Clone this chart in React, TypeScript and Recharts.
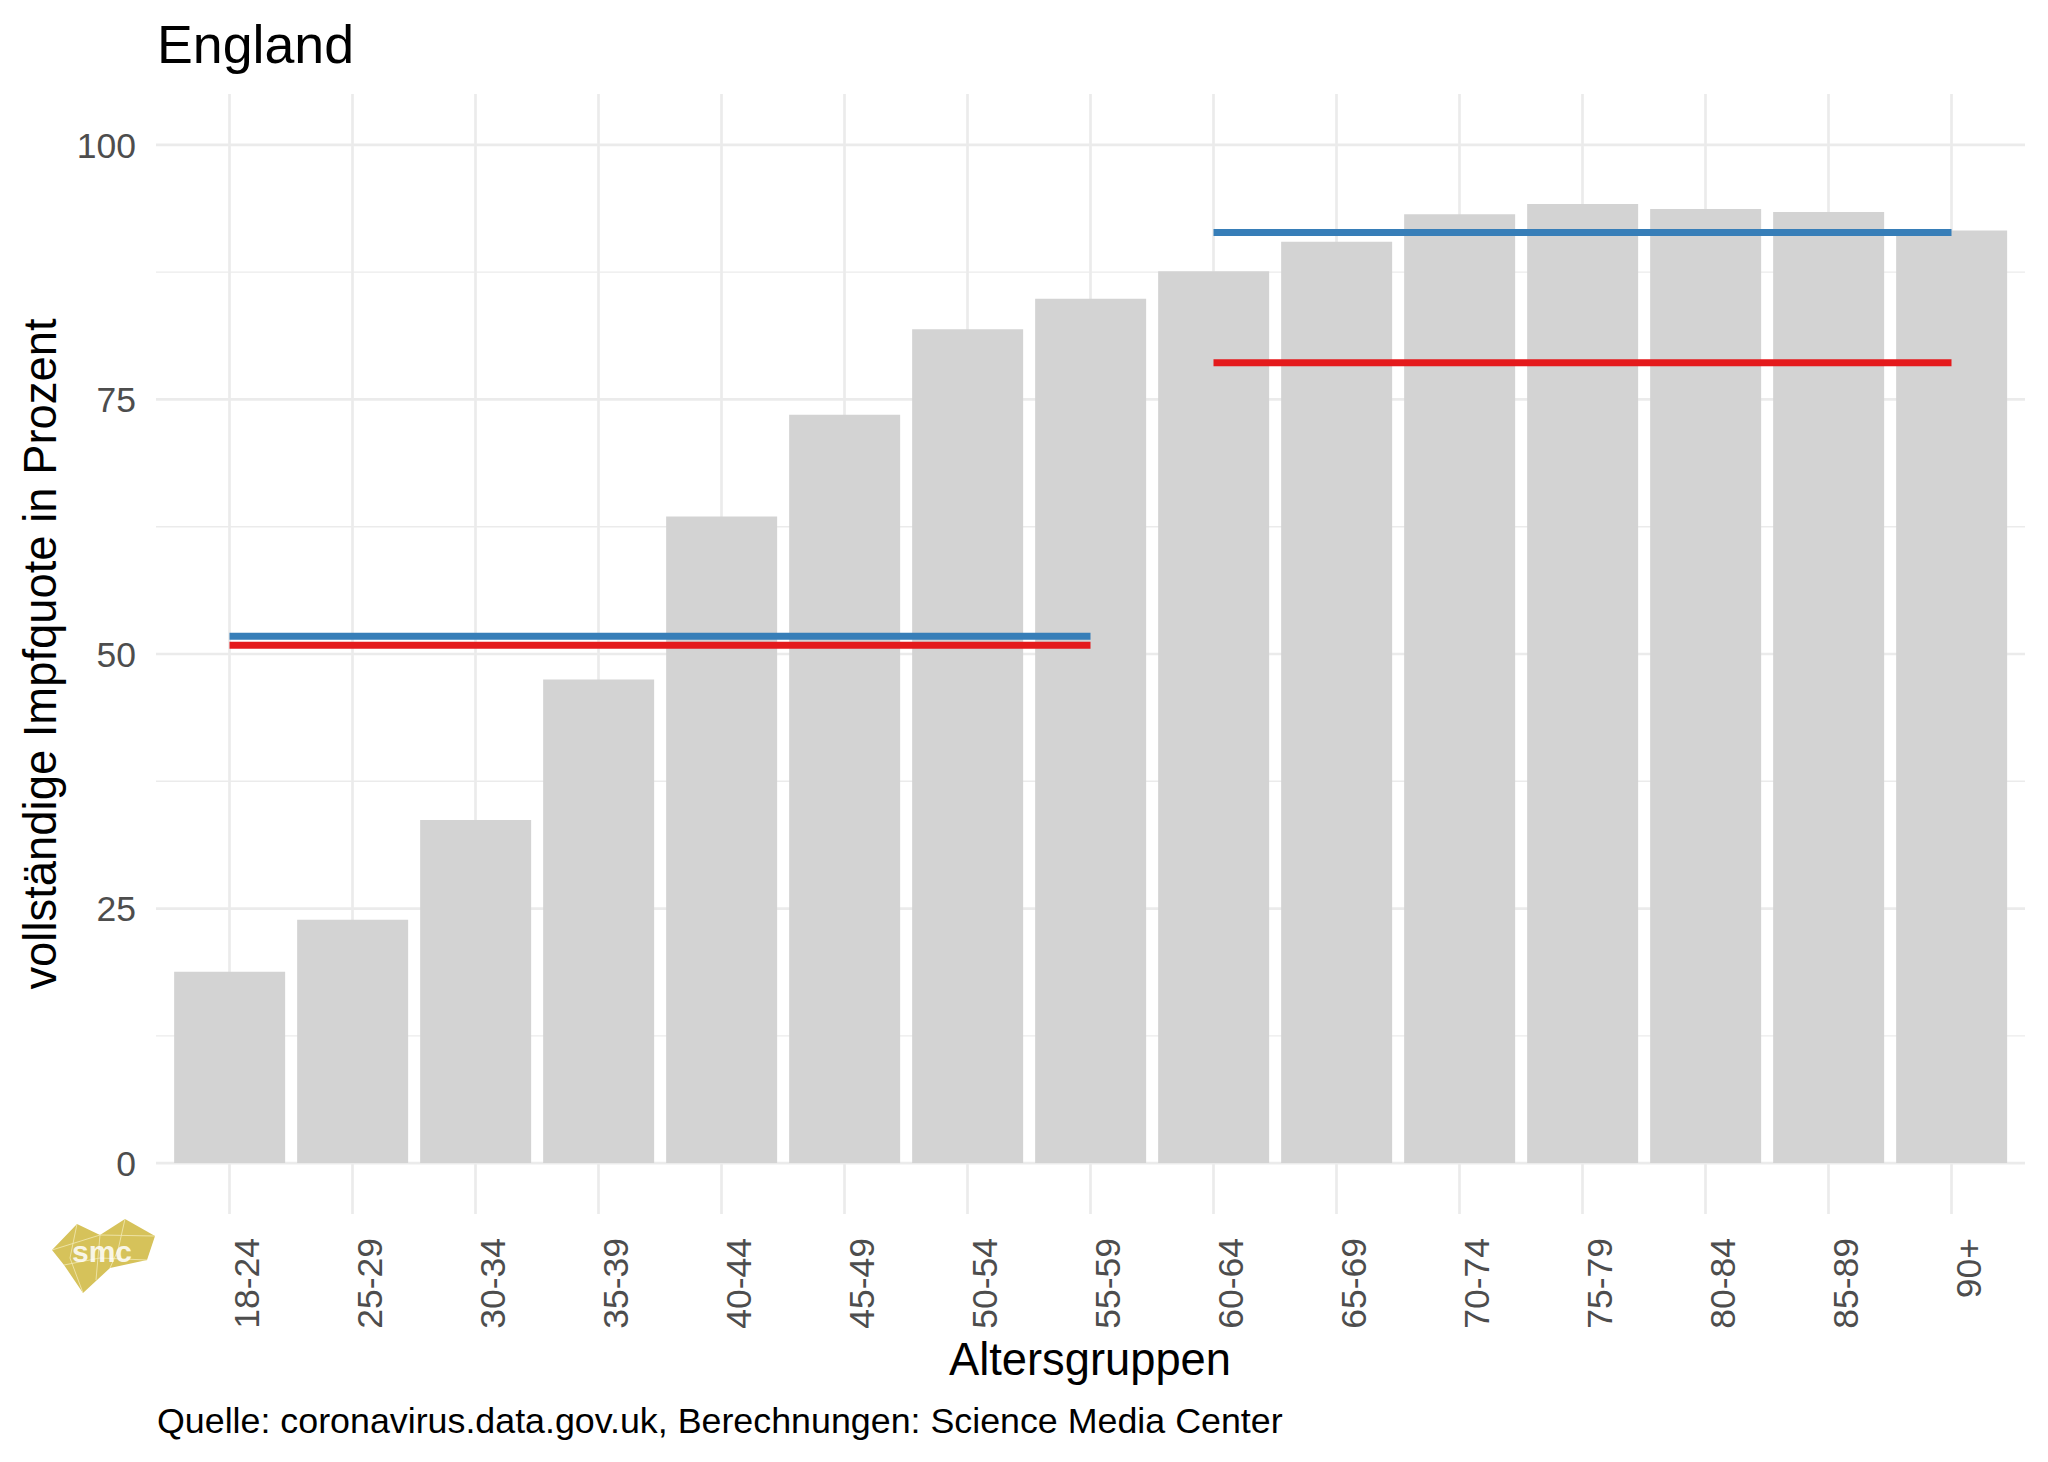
import React from 'react';
import { ComposedChart, Bar, Line, XAxis, YAxis, CartesianGrid } from 'recharts';

const AGE_GROUPS = ['18-24', '25-29', '30-34', '35-39', '40-44', '45-49', '50-54', '55-59', '60-64', '65-69', '70-74', '75-79', '80-84', '85-89', '90+'];
const FULL_RATE = [18.8, 23.9, 33.7, 47.5, 63.5, 73.5, 81.9, 84.9, 87.6, 90.5, 93.2, 94.2, 93.7, 93.4, 91.6];

// horizontal reference segments: groups 18-59 and 60+
const SEGMENT_START = [0, 8];
const SEGMENT_END = [7, 14];
const BLUE_LEVEL = [51.75, 91.4];
const RED_LEVEL = [50.85, 78.6];

const Y_TICKS = [0, 25, 50, 75, 100];
const Y_MINOR = [12.5, 37.5, 62.5, 87.5];

const BLUE = '#377EB8';
const RED = '#E41A1C';
const BAR = '#D3D3D3';
const GRID = '#EBEBEB';
const FONT = '"Liberation Sans", Arial, sans-serif';

const rows = AGE_GROUPS.map((group, i) => {
  const row: Record<string, any> = { group, rate: FULL_RATE[i] };
  SEGMENT_START.forEach((start, k) => {
    if (i >= start && i <= SEGMENT_END[k]) {
      row[`blue${k}`] = BLUE_LEVEL[k];
      row[`red${k}`] = RED_LEVEL[k];
    }
  });
  return row;
});

const XTick = (props: any) => {
  const { x, y, payload } = props;
  return (
    <text
      x={x}
      y={y}
      dy={29}
      transform={`rotate(-90 ${x} ${y})`}
      textAnchor="end"
      fill="#4D4D4D"
      fontSize={35.5}
      fontFamily={FONT}
    >
      {payload.value}
    </text>
  );
};

const Logo = () => (
  <g>
    <polygon
      points="52,1250 77,1224 100,1235 125,1219 155,1236 147,1260 110,1268 83,1293 64,1265"
      fill="#D6C25A"
    />
    <g stroke="#F3EAB5" strokeWidth={0.8} fill="none">
      <polyline points="77,1224 70,1258 83,1293" />
      <polyline points="125,1219 118,1250 110,1268" />
      <polyline points="52,1250 100,1235 155,1236" />
      <polyline points="64,1265 100,1258 147,1260" />
      <polyline points="100,1235 96,1280" />
    </g>
    <text x={102} y={1262} textAnchor="middle" fontSize={30} fontWeight="bold" fill="#FFFFFF" fontFamily={FONT} opacity={0.85}>
      smc
    </text>
  </g>
);

export default function App() {
  return (
    <div style={{ position: 'absolute', left: 0, top: 0, width: 2048, height: 1462, background: '#fff' }}>
      <ComposedChart
        width={2048}
        height={1462}
        data={rows}
        margin={{ top: 94, right: 23, bottom: 148, left: 96 }}
        barCategoryGap="5%"
      >
        <CartesianGrid stroke={GRID} strokeWidth={2.7} syncWithTicks />
        <CartesianGrid stroke={GRID} strokeWidth={1.35} vertical={false} horizontalValues={Y_MINOR} syncWithTicks />
        <XAxis
          dataKey="group"
          type="category"
          padding={{ left: 12, right: 12 }}
          height={100}
          axisLine={false}
          tickLine={false}
          tickSize={0}
          tickMargin={24}
          interval={0}
          tick={XTick}
        />
        <YAxis
          type="number"
          domain={[-5, 105]}
          ticks={Y_TICKS}
          allowDataOverflow
          width={60}
          axisLine={false}
          tickLine={false}
          tickSize={0}
          tickMargin={20}
          tick={{ fill: '#4D4D4D', fontSize: 35.5, fontFamily: FONT }}
        />
        <Bar dataKey="rate" fill={BAR} isAnimationActive={false} />
        <Line dataKey="blue0" stroke={BLUE} strokeWidth={7} dot={false} activeDot={false} isAnimationActive={false} />
        <Line dataKey="red0" stroke={RED} strokeWidth={7} dot={false} activeDot={false} isAnimationActive={false} />
        <Line dataKey="blue1" stroke={BLUE} strokeWidth={7} dot={false} activeDot={false} isAnimationActive={false} />
        <Line dataKey="red1" stroke={RED} strokeWidth={7} dot={false} activeDot={false} isAnimationActive={false} />
      </ComposedChart>
      <svg
        width={2048}
        height={1462}
        style={{ position: 'absolute', left: 0, top: 0, pointerEvents: 'none' }}
        fontFamily={FONT}
      >
        <text x={157} y={63} fontSize={53.7} fill="#000">England</text>
        <text x={56} y={654} transform="rotate(-90 56 654)" textAnchor="middle" fontSize={45.4} fill="#000">
          vollständige Impfquote in Prozent
        </text>
        <text x={1090} y={1375} textAnchor="middle" fontSize={45.3} fill="#000">Altersgruppen</text>
        <text x={157} y={1433} fontSize={35.8} fill="#000">
          Quelle: coronavirus.data.gov.uk, Berechnungen: Science Media Center
        </text>
        <Logo />
      </svg>
    </div>
  );
}
